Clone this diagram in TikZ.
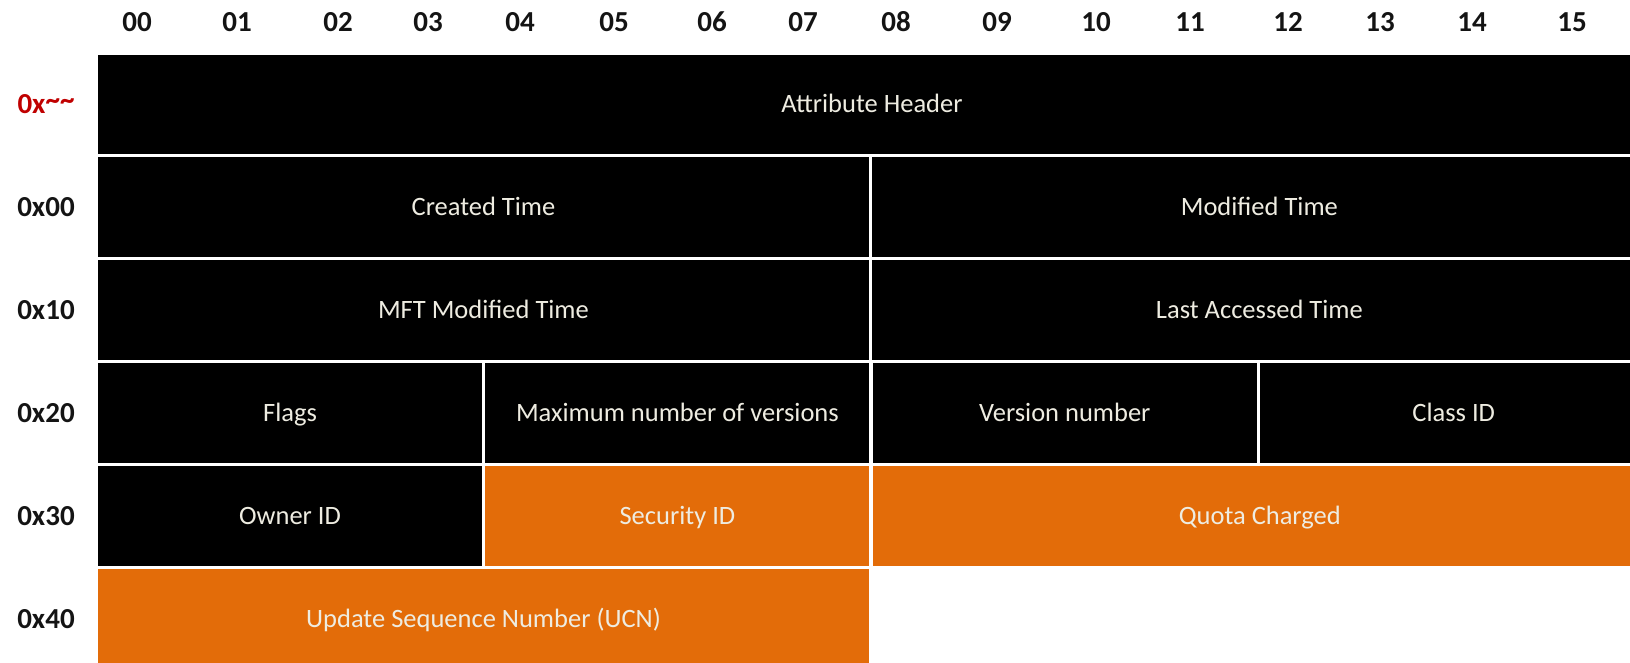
\documentclass[tikz,border=0pt]{standalone}
\usepackage{fontspec}
\setmainfont{Carlito}
\usepackage{xcolor}
\definecolor{cellink}{HTML}{EEECE1}
\definecolor{quota}{HTML}{E36C09}
\definecolor{offred}{HTML}{C00000}
\definecolor{headink}{HTML}{141414}
\usepackage{tikz}
\usetikzlibrary{positioning}

\begin{document}
\begin{tikzpicture}[
  x=1pt, y=-1pt,
  field/.style={rectangle, fill=black, text=cellink, inner sep=0pt, minimum height=99.5pt, font=\fontsize{26.5}{30}\selectfont, text height=17pt, text depth=0pt},
  fieldhi/.style={field, fill=quota},
  colnum/.style={inner sep=0pt, text=headink, font=\fontsize{29}{32}\selectfont\bfseries, text height=19pt, text depth=0pt},
  rowlabel/.style={colnum},
]
\useasboundingbox (0,0) rectangle (1630,662);
\clip (0,0) rectangle (1630,662);

% byte columns
\foreach \num/\xc in {00/137, 01/237, 02/338, 03/428, 04/520, 05/614, 06/712, 07/803,
                      08/896, 09/997, 10/1096, 11/1190, 12/1288, 13/1380, 14/1472, 15/1572}
  \node[colnum] (col\num) at (\xc,22) {\num};

% attribute fields
\node[field, minimum width=1548pt] (attrhdr) at (872,104.25) {Attribute Header};
\node[field, minimum width=771pt, below=3pt of attrhdr.south west, anchor=north west] (created) {Created Time};
\node[field, minimum width=774pt, right=3pt of created] (modified) {Modified Time};
\node[field, minimum width=771pt, below=3pt of created] (mftmod) {MFT Modified Time};
\node[field, minimum width=774pt, right=3pt of mftmod] (lastacc) {Last Accessed Time};
\node[field, minimum width=384pt, below=3pt of mftmod.south west, anchor=north west] (flags) {Flags};
\node[field, minimum width=384pt, right=3pt of flags] (maxver) {Maximum number of versions};
\node[field, minimum width=384pt, right=3pt of maxver] (vernum) {Version number};
\node[field, minimum width=387pt, right=3pt of vernum] (classid) {Class ID};
\node[field, minimum width=384pt, below=3pt of flags] (owner) {Owner ID};
\node[fieldhi, minimum width=384pt, right=3pt of owner] (secid) {Security ID};
\node[fieldhi, minimum width=774pt, right=3pt of secid] (quota) {Quota Charged};
\node[fieldhi, minimum width=771pt, below=3pt of owner.south west, anchor=north west] (usn) {Update Sequence Number (UCN)};

% offsets
\node[rowlabel, text=offred] (off-attrhdr) at (46,0 |- attrhdr) {0x\raisebox{4pt}{\textasciitilde\textasciitilde}};
\foreach \lbl/\row in {0x00/created, 0x10/mftmod, 0x20/flags, 0x30/owner, 0x40/usn}
  \node[rowlabel] (off-\row) at (46,0 |- \row) {\lbl};

\end{tikzpicture}
\end{document}
